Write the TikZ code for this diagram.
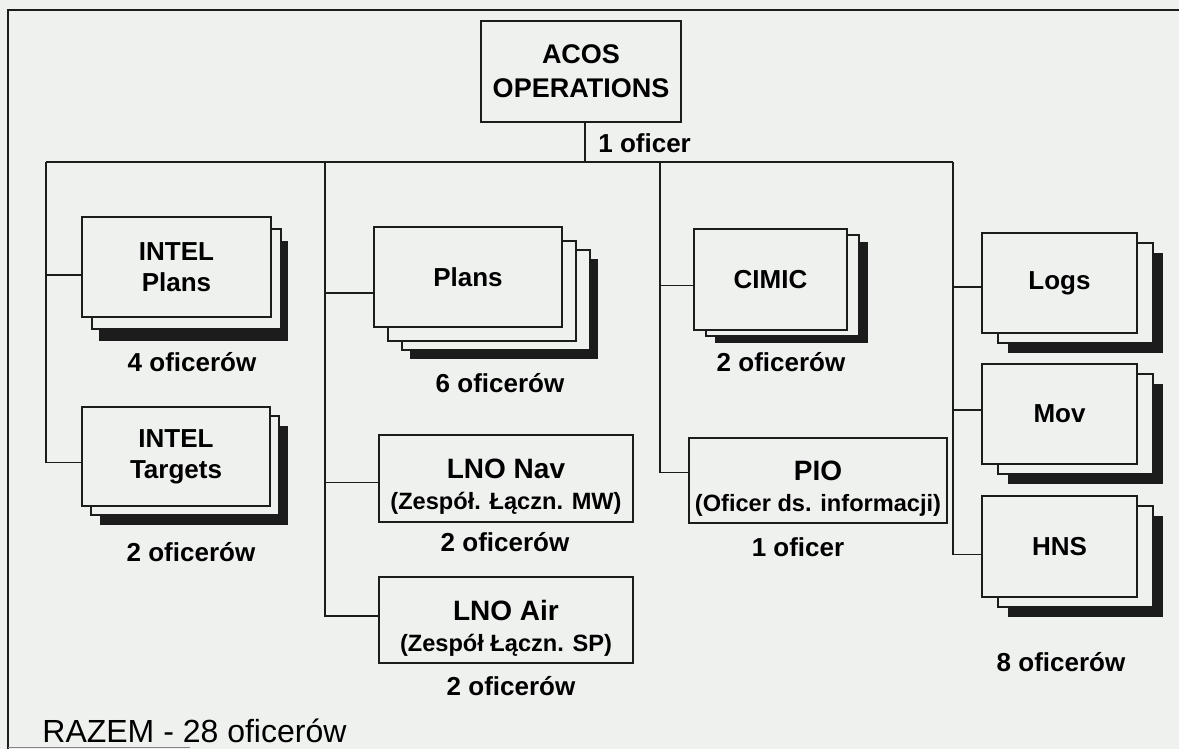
\documentclass[tikz,border=0pt]{standalone}
\usepackage{fontspec}
\setmainfont{Liberation Sans}
\usetikzlibrary{shadows}

\definecolor{paper}{RGB}{239,241,239}
\definecolor{ink}{RGB}{28,28,28}

\tikzset{
	unit/.style={draw=ink,line width=1.1pt,fill=paper,inner sep=0pt,align=center,
		font=\fontsize{13}{15.5}\selectfont\bfseries},
	sheet/.style 2 args={copy shadow={shadow xshift=#1,shadow yshift=-#2,draw=ink,fill=paper,line width=1.1pt}},
	dark/.style 2 args={drop shadow={shadow xshift=#1,shadow yshift=-#2,fill=ink,opacity=1}},
	count/.style={inner sep=0pt,font=\fontsize{13}{15.5}\selectfont\bfseries},
	link/.style={draw=ink,line width=0.8pt},
}
% tytul i podtytul w jednej komorce
\newcommand{\twoline}[2]{\rule{0pt}{18pt}\fontsize{14}{16}\selectfont #1\\\fontsize{11.8}{16}\selectfont #2}

\begin{document}
\begin{tikzpicture}[x=0.5pt,y=-0.5pt]
				\fill[paper] (0,0) rectangle (1179,749);
				\useasboundingbox (0,0) rectangle (1179,749);
				% ramka
				\draw[ink,line width=1.2pt] (1179,10)--(8,10)--(8,749);
				\draw[ink!55,line width=0.8pt] (8,747.5)--(190,747.5);

				% komorki
				\node[unit,minimum width=100pt,minimum height=50.5pt,font=\fontsize{13.5}{17}\selectfont\bfseries] (acos) at (581,71.5) {ACOS\\OPERATIONS};
				\node[unit,dark={8.5pt}{12pt},sheet={5pt}{6pt},minimum width=94.5pt,minimum height=50pt] (intelp) at (176.5,267) {INTEL\\Plans};
				\node[unit,dark={9pt}{9.5pt},sheet={4.5pt}{4.5pt},minimum width=94pt,minimum height=49.5pt] (intelt) at (176,456.5) {INTEL\\Targets};
				\node[unit,dark={18pt}{16pt},sheet={14pt}{11.5pt},sheet={7pt}{7pt},minimum width=94pt,minimum height=50pt] (plans) at (468,277) {Plans};
				\node[unit,minimum width=127pt,minimum height=43.5pt] (lnonav) at (506,478.5) {\twoline{LNO Nav}{(Zespół. Łączn. MW)}};
				\node[unit,minimum width=127pt,minimum height=43pt] (lnoair) at (506,620) {\twoline{LNO Air}{(Zespół Łączn. SP)}};
				\node[unit,dark={10.5pt}{6.5pt},sheet={6pt}{3pt},minimum width=76.5pt,minimum height=50.5pt] (cimic) at (770.5,279.5) {CIMIC};
				\node[unit,minimum width=129pt,minimum height=42.5pt] (pio) at (818,480.5) {\twoline{PIO}{(Oficer ds. informacji)}};
				\node[unit,dark={13pt}{10pt},sheet={8pt}{5pt},minimum width=77.5pt,minimum height=50pt] (logs) at (1059.5,283) {Logs};
				\node[unit,dark={13pt}{10pt},sheet={8pt}{5pt},minimum width=77.5pt,minimum height=50pt] (mov) at (1059.5,414) {Mov};
				\node[unit,dark={13pt}{10pt},sheet={8pt}{5pt},minimum width=77.5pt,minimum height=50.5pt] (hns) at (1059.5,546.5) {HNS};

				% liczby oficerow
				\node[count,anchor=west] (acosn) at (598,143) {1 oficer};
				\node[count] (intelpn) at (192,362) {4 oficerów};
				\node[count] (inteltn) at (191,552) {2 oficerów};
				\node[count] (plansn) at (500,383) {6 oficerów};
				\node[count] (cimicn) at (781,362) {2 oficerów};
				\node[count] (lnonavn) at (505,542) {2 oficerów};
				\node[count] (lnoairn) at (511,686) {2 oficerów};
				\node[count] (pion) at (798,547) {1 oficer};
				\node[count] (hnsn) at (1061,662) {8 oficerów};
				\node[inner sep=0pt,anchor=west,font=\fontsize{16}{19}\selectfont] (total) at (42,731) {RAZEM - 28 oficerów};

				% polaczenia
				\coordinate (b1) at (46,162);
				\coordinate (b2) at (325,162);
				\coordinate (b3) at (660,162);
				\coordinate (b4) at (953,162);
				\coordinate (outAcos) at ([xshift=2pt]acos.south);
				\coordinate (inIntelP) at ([yshift=-4pt]intelp.west);
				\coordinate (inIntelT) at ([yshift=-3pt]intelt.west);
				\coordinate (inPlans) at ([yshift=-8pt]plans.west);
				\coordinate (inNav) at ([yshift=-2pt]lnonav.west);
				\coordinate (inAir) at ([yshift=2pt]lnoair.west);
				\coordinate (inCimic) at ([yshift=-3pt]cimic.west);
				\coordinate (inPio) at ([yshift=4pt]pio.west);
				\coordinate (inLogs) at ([yshift=-2pt]logs.west);
				\coordinate (inMov) at ([yshift=2pt]mov.west);
				\coordinate (inHns) at ([yshift=-4pt]hns.west);

				\draw[link] (outAcos)--(outAcos |- b1);
				\draw[link] (b1)--(b4);
				\draw[link] (b1) |- (inIntelT);
				\draw[link] (b1 |- inIntelP)--(inIntelP);
				\draw[link] (b2) |- (inAir);
				\draw[link] (b2 |- inPlans)--(inPlans);
				\draw[link] (b2 |- inNav)--(inNav);
				\draw[link] (b3) |- (inPio);
				\draw[link] (b3 |- inCimic)--(inCimic);
				\draw[link] (b4) |- (inHns);
				\draw[link] (b4 |- inLogs)--(inLogs);
				\draw[link] (b4 |- inMov)--(inMov);
\end{tikzpicture}
\end{document}
